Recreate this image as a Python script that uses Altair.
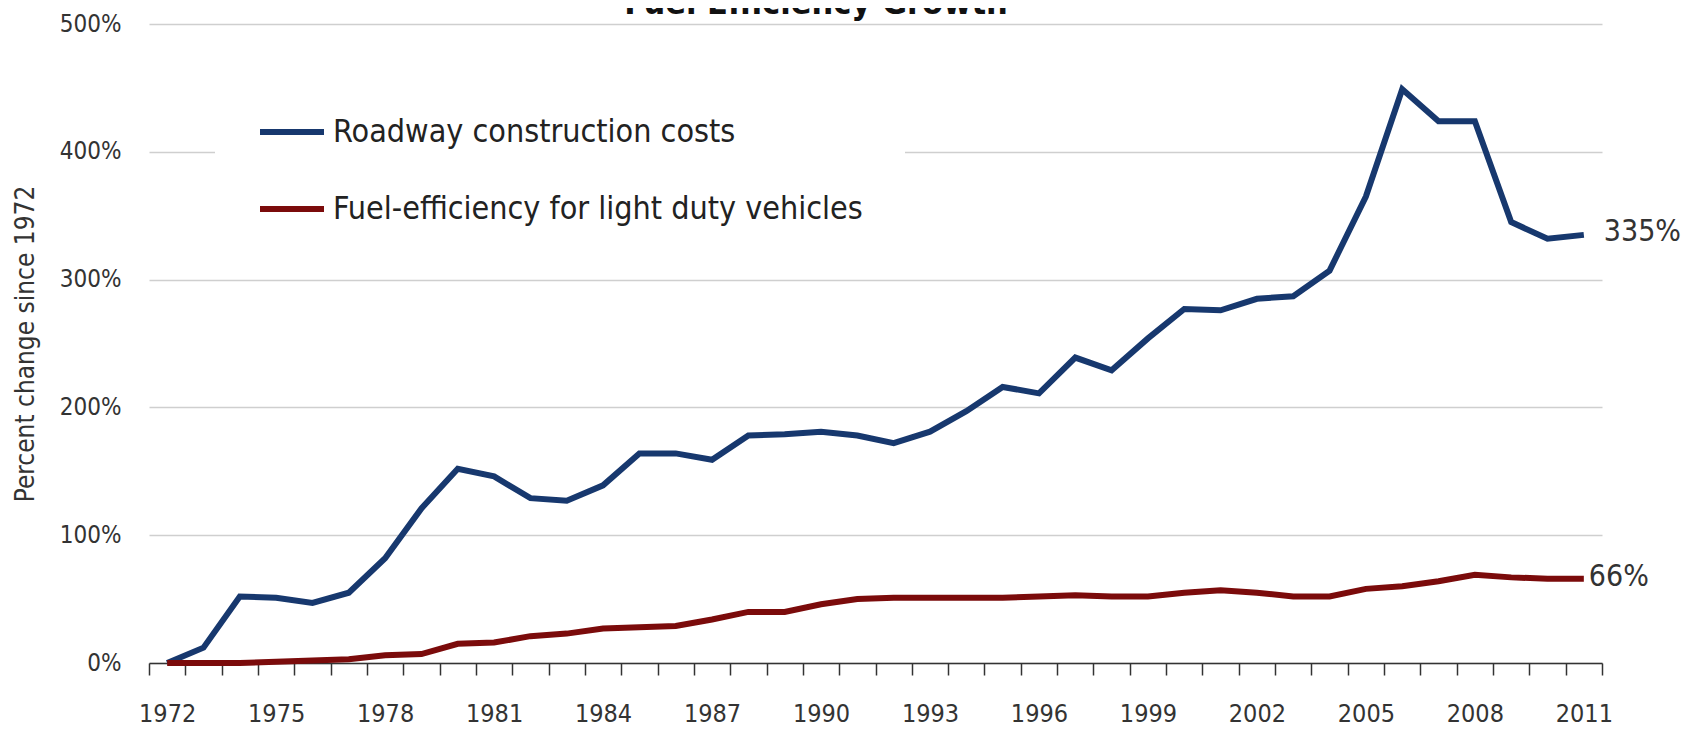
import altair as alt
import pandas as pd

# ---------------- data ----------------
years = list(range(1972, 2012))
roadway = [0, 12, 52, 51, 47, 55, 82, 121, 152, 146, 129, 127, 139, 164, 164, 159,
           178, 179, 181, 178, 172, 181, 197, 216, 211, 239, 229, 254, 277, 276,
           285, 287, 307, 365, 449, 424, 424, 345, 332, 335]
fuel = [0, 0, 0, 1, 2, 3, 6, 7, 15, 16, 21, 23, 27, 28, 29, 34, 40, 40, 46, 50,
        51, 51, 51, 51, 52, 53, 52, 52, 55, 57, 55, 52, 52, 58, 60, 64, 69, 67, 66, 66]
series_names = ["Roadway construction costs", "Fuel-efficiency for light duty vehicles"]
series_colors = ["#17386e", "#7b0b0b"]
end_labels = ["335%", "66%"]
y_ticks = [0, 100, 200, 300, 400, 500]
x_label_years = [1972, 1975, 1978, 1981, 1984, 1987, 1990, 1993, 1996, 1999, 2002, 2005, 2008, 2011]
x_tick_edges = [yr - 0.5 for yr in years] + [years[-1] + 0.5]
title_text = "Fuel Efficiency Growth"
y_title = "Percent change since 1972"

rows = []
for name, vals, lab in zip(series_names, [roadway, fuel], end_labels):
    for yr, v in zip(years, vals):
        rows.append({"year": yr, "value": v, "series": name,
                     "end": lab if yr == years[-1] else ""})
df = pd.DataFrame(rows)
df_end_blue = df[(df["end"] != "") & (df["series"] == series_names[0])]
df_end_red = df[(df["end"] != "") & (df["series"] == series_names[1])]

FONT = "DejaVu Sans Condensed, DejaVu Sans, sans-serif"
TXT = "#333333"

x_scale = alt.Scale(domain=[1971.5, 2011.5], nice=False, zero=False)

# axis that carries the year labels (centred on each year)
x_labels = alt.X(
    "year:Q", scale=x_scale,
    axis=alt.Axis(
        orient="bottom", values=x_label_years, format="d",
        ticks=False, tickSize=0, domain=False, grid=False, title=None,
        labelFontSize=25, labelPadding=38, labelFont=FONT, labelColor=TXT,
        labelOverlap=False, labelFlush=False, labelBound=False,
    ),
)
# axis that carries the baseline and the tick marks between years
x_ticks = alt.X(
    "year:Q", scale=x_scale,
    axis=alt.Axis(
        orient="bottom", values=x_tick_edges, labels=False,
        tickSize=12, tickColor="#333333", tickWidth=1.5,
        domainColor="#333333", domainWidth=1.5, grid=False, title=None,
    ),
)
x_none = alt.X("year:Q", scale=x_scale, axis=None)

y_enc = alt.Y(
    "value:Q",
    scale=alt.Scale(domain=[0, 500], nice=False),
    axis=alt.Axis(
        values=y_ticks, labelExpr="datum.value + '%'",
        grid=True, gridColor="#cfcfcf", gridWidth=1.3,
        domain=False, ticks=False,
        labelFontSize=24, labelPadding=28, labelFont=FONT, labelColor=TXT,
        title=y_title, titleFont=FONT, titleFontSize=26, titleFontWeight="normal",
        titleColor=TXT, titleX=-124, titleY=319.5, titleBaseline="middle",
        titleAlign="center", titleAngle=270,
    ),
)

lines = alt.Chart(df).mark_line(strokeWidth=6).encode(
    x=x_labels, y=y_enc,
    color=alt.Color(
        "series:N",
        scale=alt.Scale(domain=series_names, range=series_colors),
        legend=alt.Legend(
            orient="none", legendX=66, legendY=31, title=None, fillColor="white",
            padding=42, symbolType="stroke", symbolSize=4096, symbolStrokeWidth=6,
            labelFontSize=32, labelFont=FONT, labelColor="#222222", labelOffset=6,
            rowPadding=26, labelLimit=0,
        ),
    ),
    detail="series:N",
)

lab_blue = alt.Chart(df_end_blue).mark_text(
    align="left", baseline="middle", dx=20, dy=-3, fontSize=30, font=FONT, color=TXT
).encode(x=x_ticks, y=y_enc, text="end:N")

lab_red = alt.Chart(df_end_red).mark_text(
    align="left", baseline="middle", dx=5, dy=-2, fontSize=30, font=FONT, color=TXT
).encode(x=x_none, y=y_enc, text="end:N")

title = alt.Chart(pd.DataFrame({"t": [title_text]})).mark_text(
    align="center", baseline="alphabetic", fontSize=34, fontWeight="bold",
    font=FONT, color="#111111"
).encode(text="t:N", x=alt.value(667), y=alt.value(-10))

chart = alt.layer(lines, lab_blue, lab_red, title).resolve_axis(
    x="independent"
).properties(
    width=1453, height=639,
    autosize=alt.AutoSizeParams(type="none"),
    padding={"left": 141, "top": 16, "right": 86, "bottom": 64},
    background="white",
).configure_view(stroke=None)

chart.save("out.html", embed_options={"renderer": "svg", "actions": False})
